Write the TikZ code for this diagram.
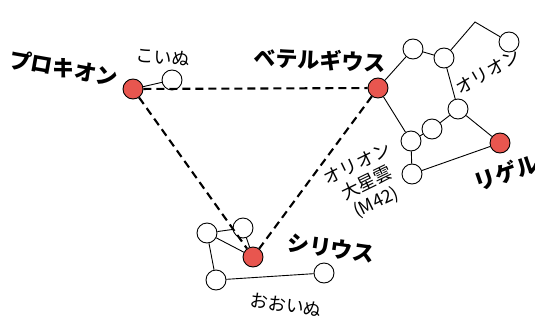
\documentclass[tikz,border=0pt]{standalone}
\usepackage{fontspec}
\newfontfamily\jp{Noto Sans CJK JP}
\definecolor{starred}{HTML}{E8564F}

\begin{document}
\begin{tikzpicture}[x=1pt, y=-1pt,
	wstar/.style={circle, draw, fill=white, minimum size=20pt, inner sep=0pt, line width=0.9pt},
	rstar/.style={wstar, fill=starred},
	link/.style={line width=0.9pt},
	guide/.style={line width=2.1pt, dash pattern=on 8pt off 5pt},
	starlabel/.style={font=\jp\bfseries\fontsize{22}{22}\selectfont},
	grouplabel/.style={font=\jp\fontsize{18}{21}\selectfont, align=center}]
	\useasboundingbox (0,0) rectangle (535,324);

	% stars
	\node [rstar] (procyon) at (133,89) {};
	\node [wstar] (koinu)   at (172,80) {};
	\node [rstar] (betel)   at (378,88) {};
	\node [wstar] (o1) at (413,49) {};
	\node [wstar] (o2) at (444,58) {};
	\coordinate   (o3) at (475,22);
	\node [wstar] (o4) at (509,42) {};
	\node [wstar] (o5) at (458,109) {};
	\node [wstar] (o6) at (432,129) {};
	\node [wstar] (o7) at (411,141) {};
	\node [wstar] (m42) at (412,174) {};
	\node [rstar] (rigel) at (500,143) {};
	\node [wstar] (c1) at (207,233) {};
	\node [wstar] (c2) at (243,228) {};
	\node [rstar] (sirius) at (253,257) {};
	\node [wstar] (c3) at (216,280) {};
	\node [wstar] (c4) at (324,273) {};

	% constellation lines
	\draw [link] (procyon) -- (koinu);
	\draw [link] (betel) -- (o1) -- (o2) -- (o3) -- (o4);
	\draw [link] (o2) -- (o5) -- (rigel);
	\draw [link] (o5) -- (o6) -- (o7);
	\draw [link] (betel) -- (o7) -- (m42) -- (rigel);
	\draw [link] (c1) -- (c2) -- (sirius) -- (c1);
	\draw [link] (c1) -- (c3) -- (c4);

	% winter triangle
	\draw [guide] (procyon) -- (betel);
	\draw [guide] (procyon) -- (sirius);
	\draw [guide] (betel) -- (sirius);

	\node [starlabel, rotate=-10] (lprocyon) at (64,68)  {プロキオン};
	\node [starlabel, rotate=-3]  (lbetel)   at (320,60) {ベテルギウス};
	\node [starlabel, rotate=19]  (lrigel)   at (506,173) {リゲル};
	\node [starlabel, rotate=-8]  (lsirius)  at (331,248) {シリウス};
	\node [grouplabel, rotate=-5] (lkoinu)   at (163,57) {こいぬ};
	\node [grouplabel, rotate=30] (lorion)   at (488,72) {オリオン};
	\node [grouplabel, rotate=-8] (loinu)    at (286,305) {おおいぬ};
	\node [grouplabel, rotate=26] (lm42)     at (367,184) {オリオン\\大星雲\\(M42)};
\end{tikzpicture}
\end{document}
